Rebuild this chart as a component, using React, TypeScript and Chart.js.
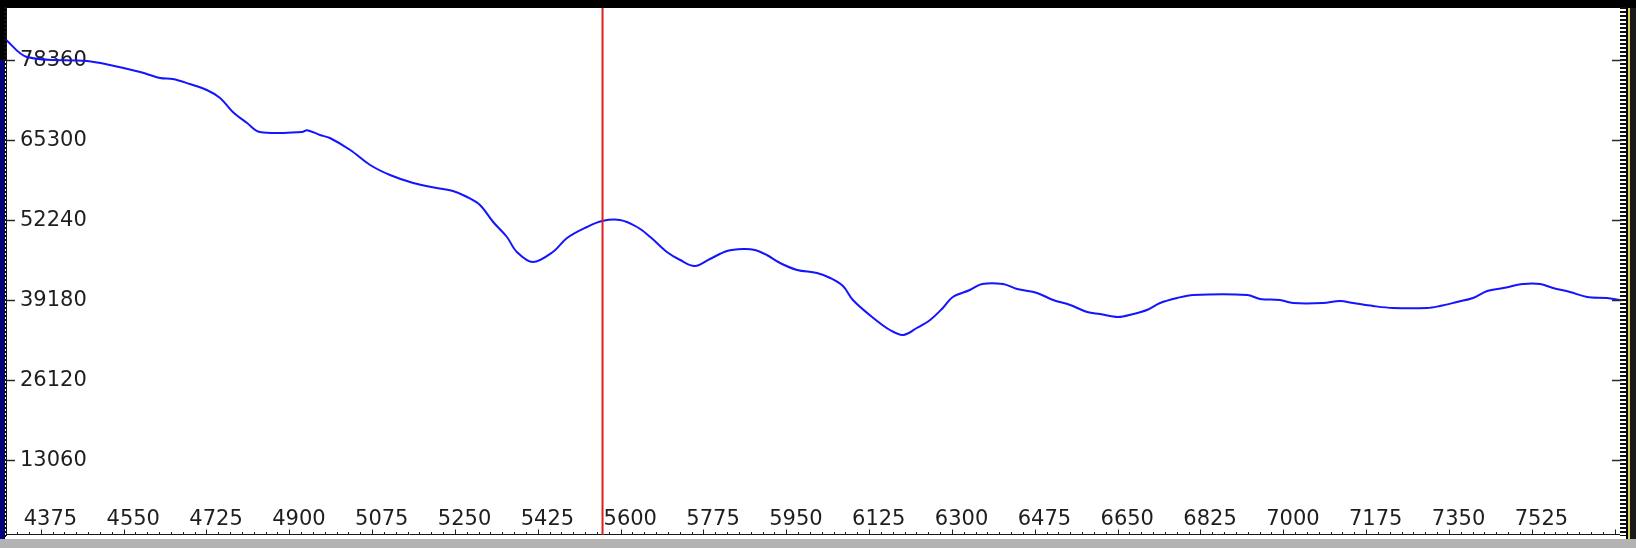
import React, { useEffect, useRef } from "react";
import { Chart, registerables } from "chart.js";

Chart.register(...registerables);

// Sample positions along the horizontal axis
const positions = [
  4302, 4346, 4473, 4521, 4585, 4627, 4654, 4690, 4726, 4754, 4781, 4811, 4838,
  4927, 4938, 4965, 4986, 5029, 5071, 5113, 5162, 5212, 5246, 5276, 5303, 5331,
  5360, 5381, 5415, 5457, 5487, 5529, 5561, 5599, 5635, 5663, 5698, 5726, 5757,
  5789, 5825, 5859, 5884, 5909, 5937, 5973, 6015, 6043, 6070, 6091, 6134, 6169,
  6197, 6226, 6254, 6281, 6302, 6338, 6364, 6408, 6438, 6480, 6514, 6550, 6586,
  6613, 6651, 6683, 6712, 6740, 6776, 6810, 6924, 6951, 6993, 7021, 7084, 7120,
  7148, 7190, 7232, 7304, 7331, 7367, 7401, 7431, 7465, 7507, 7543, 7570, 7606,
  7642, 7684, 7711,
];

// Signal level at each position
const signal = [
  81625, 78850, 78197, 77544, 76401, 75422, 75258, 74442, 73463, 72157, 69871,
  68075, 66606, 66606, 66900, 66116, 65627, 63668, 61219, 59586, 58280, 57464,
  56974, 55995, 54689, 51914, 49465, 47016, 45384, 47016, 49302, 51097, 52077,
  52240, 51097, 49465, 47016, 45710, 44731, 45873, 47179, 47506, 47343, 46526,
  45220, 44078, 43588, 42772, 41466, 39180, 36242, 34283, 33466, 34609, 35915,
  37874, 39670, 40813, 41792, 41792, 40976, 40323, 39180, 38364, 37221, 36895,
  36405, 36895, 37548, 38690, 39507, 39996, 39996, 39343, 39180, 38690, 38690,
  39017, 38690, 38201, 37874, 37874, 38201, 38854, 39507, 40649, 41139, 41792,
  41792, 41139, 40486, 39670, 39507, 39180,
];

// Axis tick labels
const xTickLabels = [
  4375, 4550, 4725, 4900, 5075, 5250, 5425, 5600, 5775, 5950, 6125, 6300, 6475,
  6650, 6825, 7000, 7175, 7350, 7525,
];
const yTickLabels = [13060, 26120, 39180, 52240, 65300, 78360];

// Marker (cursor) position
const cursorPosition = 5562;

const X_MIN = 4301.7;
const X_MAX = 7711.6;
const Y_MAX = 86849;
const X_MINOR = 25;
const Y_MINOR = 653;

const W = 1636;
const H = 548;
const LABEL_FONT = '21px "DejaVu Sans", Verdana, sans-serif';

const framePlugin = {
  id: "rulerFrame",
  beforeDraw(chart: any) {
    const ctx = chart.ctx;
    ctx.save();
    ctx.fillStyle = "#ffffff";
    ctx.fillRect(0, 0, W, H);
    ctx.restore();
  },
  beforeDatasetsDraw(chart: any) {
    const ctx = chart.ctx;
    const xs = chart.scales.x;
    const ys = chart.scales.y;
    const area = chart.chartArea;
    ctx.save();

    // left-hand value labels with their tick marks
    ctx.font = LABEL_FONT;
    ctx.fillStyle = "#1e1e1e";
    ctx.textAlign = "left";
    ctx.textBaseline = "middle";
    ctx.strokeStyle = "#2a2a2a";
    ctx.lineWidth = 1.5;
    for (const v of yTickLabels) {
      const py = Math.round(ys.getPixelForValue(v)) + 0.5;
      ctx.beginPath();
      ctx.moveTo(area.left, py);
      ctx.lineTo(area.left + 9, py);
      ctx.stroke();
      ctx.fillText(String(v), 20, py);
    }

    // bottom position labels
    ctx.textBaseline = "alphabetic";
    for (const v of xTickLabels) {
      const px = xs.getPixelForValue(v);
      ctx.fillText(String(v), px - 17, 525);
    }

    // bottom ruler
    const rulerY = 534.5;
    ctx.strokeStyle = "#1a1a1a";
    ctx.lineWidth = 1;
    ctx.beginPath();
    ctx.moveTo(area.left, rulerY);
    ctx.lineTo(area.right, rulerY);
    ctx.stroke();
    const start = Math.ceil(X_MIN / X_MINOR) * X_MINOR;
    for (let v = start; v <= X_MAX; v += X_MINOR) {
      const px = Math.round(xs.getPixelForValue(v)) + 0.5;
      const major = (v - xTickLabels[0]) % 175 === 0;
      ctx.beginPath();
      ctx.moveTo(px, rulerY);
      ctx.lineTo(px, rulerY - (major ? 5 : 2.5));
      ctx.stroke();
    }
    ctx.restore();
  },
  afterDatasetsDraw(chart: any) {
    const ctx = chart.ctx;
    const xs = chart.scales.x;
    const ys = chart.scales.y;
    const area = chart.chartArea;
    ctx.save();

    // cursor line
    const cx = xs.getPixelForValue(cursorPosition);
    ctx.strokeStyle = "#dd1f1f";
    ctx.lineWidth = 2;
    ctx.beginPath();
    ctx.moveTo(cx, area.top);
    ctx.lineTo(cx, 535);
    ctx.stroke();

    // top bar
    ctx.fillStyle = "#000000";
    ctx.fillRect(0, 0, W, 8);

    // left edge and ruler
    ctx.fillStyle = "#000000";
    ctx.fillRect(0, 8, 6, 52);
    ctx.fillStyle = "#02027e";
    ctx.fillRect(0, 60, 5, 479);
    ctx.fillStyle = "#111111";
    for (let v = 0; v <= Y_MAX; v += Y_MINOR) {
      const py = Math.round(ys.getPixelForValue(v));
      if (py < area.top) continue;
      ctx.fillRect(4, py - 1, 3, 2);
    }
    ctx.fillRect(6, area.top, 1, area.bottom - area.top);

    // right ruler
    ctx.fillStyle = "#ffffff";
    ctx.fillRect(area.right, area.top, 6, area.bottom - area.top);
    ctx.fillStyle = "#111111";
    for (let v = 0; v <= Y_MAX; v += Y_MINOR) {
      const py = Math.round(ys.getPixelForValue(v));
      if (py < area.top) continue;
      ctx.fillRect(area.right, py - 1, 6, 2);
    }
    ctx.strokeStyle = "#2a2a2a";
    ctx.lineWidth = 1.5;
    for (const v of yTickLabels) {
      const py = Math.round(ys.getPixelForValue(v)) + 0.5;
      ctx.beginPath();
      ctx.moveTo(area.right - 8, py);
      ctx.lineTo(area.right + 2, py);
      ctx.stroke();
    }
    ctx.fillStyle = "#000000";
    ctx.fillRect(1626, 8, 2, 531);
    ctx.fillStyle = "#d9d25a";
    ctx.fillRect(1628, 8, 2, 531);
    ctx.fillStyle = "#1a1a1a";
    ctx.fillRect(1630, 8, 6, 531);

    // bottom strip
    ctx.fillStyle = "#ffffff";
    ctx.fillRect(6, 536, 1620, 3);
    ctx.fillStyle = "#b3b3b3";
    ctx.fillRect(0, 539, W, H - 539);
    ctx.restore();
  },
};

export default function App() {
  const canvasRef = useRef<HTMLCanvasElement | null>(null);

  useEffect(() => {
    const canvas = canvasRef.current;
    if (!canvas) return;
    const points = positions.map((x, i) => ({ x, y: signal[i] }));
    const chart = new Chart(canvas, {
      type: "line",
      data: {
        datasets: [
          {
            data: points,
            borderColor: "#1414ff",
            borderWidth: 2,
            pointRadius: 0,
            tension: 0.35,
            fill: false,
          },
        ],
      },
      options: {
        animation: false,
        responsive: false,
        maintainAspectRatio: false,
        devicePixelRatio: 1,
        layout: { padding: { left: 6, right: 16, top: 8, bottom: 8 } },
        plugins: {
          legend: { display: false },
          tooltip: { enabled: false },
        },
        scales: {
          x: { type: "linear", min: X_MIN, max: X_MAX, display: false },
          y: { type: "linear", min: 0, max: Y_MAX, display: false },
        },
      },
      plugins: [framePlugin],
    });
    return () => chart.destroy();
  }, []);

  return (
    <div style={{ position: "fixed", left: 0, top: 0, width: W, height: H }}>
      <canvas ref={canvasRef} width={W} height={H} style={{ width: W, height: H, display: "block" }} />
    </div>
  );
}
